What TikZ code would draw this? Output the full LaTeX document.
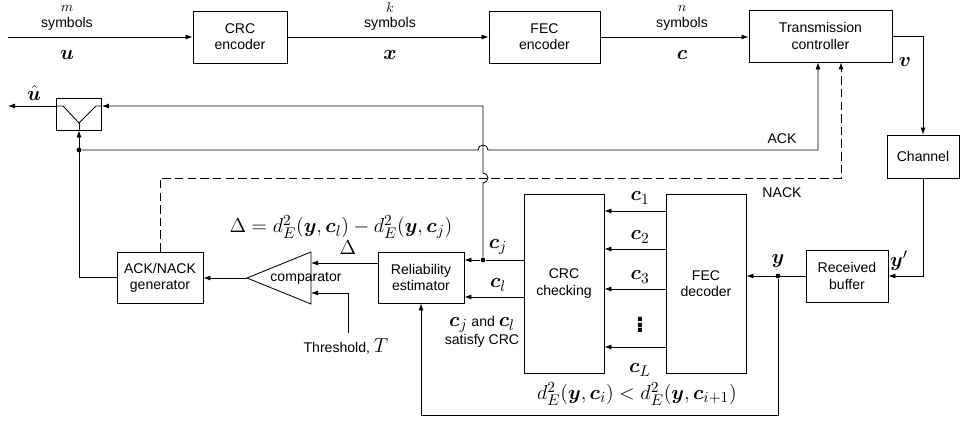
\documentclass[tikz,border=0pt]{standalone}
\usepackage{amsmath,bm}
\usepackage[no-math]{fontspec}
\setmainfont{Liberation Sans}
\usetikzlibrary{arrows.meta,calc}

\begin{document}
\begin{tikzpicture}[x=0.025cm, y=-0.025cm, line width=0.6pt,
  font=\fontsize{10}{11.5}\selectfont,
  block/.style={draw, align=center, inner sep=0pt},
  arr/.style={-{Latex[length=5pt,width=3.6pt]}},
  dot/.style={circle, fill, inner sep=0pt, minimum size=3.4pt},
  lbl/.style={font=\fontsize{15.5}{18}\selectfont, inner sep=1pt},
  tiny lbl/.style={font=\fontsize{10}{11}\selectfont, inner sep=1pt}]
  \useasboundingbox (0,0) rectangle (960,422);

  % -- Transmitter chain --
  \node[block, minimum width=2.35cm, minimum height=1.3cm] (crcenc) at (240,37) {CRC\\encoder};
  \node[block, minimum width=2.775cm, minimum height=1.3cm] (fecenc) at (544.5,37) {FEC\\encoder};
  \node[block, minimum width=3.575cm, minimum height=1.3cm] (txc) at (820.5,36) {Transmission\\controller};
  \node[block, minimum width=1.8cm, minimum height=1.075cm] (chan) at (923,156.5) {Channel};

  \coordinate (src) at (8,37);
  \draw[arr] (src) -- (crcenc.west);
  \draw[arr] (crcenc.east) -- (fecenc.west);
  \draw[arr] (fecenc.east) -- (fecenc.east -| txc.west);
  \draw[arr] (txc.east) -| (chan.north);

  \node[tiny lbl] (mlab) at (67,8) {$m$};
  \node (msym) at (67,24) {symbols};
  \node[lbl] (ulab) at (67,55) {$\bm{u}$};
  \node[tiny lbl] (klab) at (390,8) {$k$};
  \node (ksym) at (390,24) {symbols};
  \node[lbl] (xlab) at (390,55) {$\bm{x}$};
  \node[tiny lbl] (nlab) at (682,8) {$n$};
  \node (nsym) at (682,24) {symbols};
  \node[lbl] (clab) at (682,55) {$\bm{c}$};
  \node[lbl] (vlab) at (905,62) {$\bm{v}$};

  % -- Receiver chain --
  \node[block, minimum width=2.05cm, minimum height=1.3cm] (rbuf) at (847,276) {Received\\buffer};
  \node[block, minimum width=2cm, minimum height=4.475cm] (fecdec) at (706,283.5) {FEC\\decoder};
  \node[block, minimum width=2cm, minimum height=4.475cm] (crcchk) at (564,283.5) {CRC\\checking};
  \node[block, minimum width=2.15cm, minimum height=1.275cm] (relest) at (421,277.5) {Reliability\\estimator};
  \node[block, minimum width=2.15cm, minimum height=1.275cm] (ackgen) at (160,277.5) {ACK/NACK\\generator};

  \draw[arr] (chan.south) |- (rbuf.east);
  \node[lbl] (yplab) at (899,261) {$\bm{y}'$};
  \node[dot] (ydot) at (778,276) {};
  \node[lbl] (ylab) at (778,261) {$\bm{y}$};
  \draw[arr] (rbuf.west) -- (rbuf.west -| fecdec.east);
  \coordinate (ybot) at (778,415);
  \draw[arr] (ydot) -- (ybot) -| (relest.south);

  % candidate codewords
  \foreach \yy in {211, 249, 289, 347}
    \draw[arr] (fecdec.west |- 0,\yy) -- (crcchk.east |- 0,\yy);
  \node[lbl] (c1lab) at (640,198) {$\bm{c}_1$};
  \node[lbl] (c2lab) at (640,237) {$\bm{c}_2$};
  \node[lbl] (c3lab) at (640,277) {$\bm{c}_3$};
  \node[inner sep=0pt] (vdlab) at (640,321) {\fontsize{20}{20}\selectfont$\bm{\vdots}$};
  \node[lbl] (cLlab) at (640,370) {$\bm{c}_L$};
  \node[lbl] (order) at (637,394) {$d_E^2(\bm{y},\bm{c}_i) < d_E^2(\bm{y},\bm{c}_{i+1})$};

  % CRC-passing codewords
  \node[dot] (cjdot) at (483,260) {};
  \draw (crcchk.west |- cjdot) -- (cjdot);
  \draw[arr] (cjdot) -- (relest.east |- cjdot);
  \draw[arr] (crcchk.west |- 0,297) -- (relest.east |- 0,297);
  \node[lbl] (cjlab) at (498,247) {$\bm{c}_j$};
  \node[lbl] (cllab) at (498,285) {$\bm{c}_l$};
  \node[align=center, inner sep=1pt] (satlab) at (482,332) {{\fontsize{15.5}{15}\selectfont$\bm{c}_j$} and {\fontsize{15.5}{15}\selectfont$\bm{c}_l$}\\satisfy CRC};

  % comparator
  \coordinate (cmptip) at (247,278);
  \coordinate (cmpin1) at (311,263);
  \coordinate (cmpin2) at (311,293);
  \draw (311,252) -- (311,304) -- (cmptip) -- cycle;
  \node (cmp) at (306,278) {comparator};
  \draw[arr] (relest.west |- cmpin1) -- (cmpin1);
  \node[lbl] (dlab) at (348,248) {$\Delta$};
  \node[lbl] (dexpr) at (341,227) {$\Delta = d_E^2(\bm{y},\bm{c}_l) - d_E^2(\bm{y},\bm{c}_j)$};
  \node (thr) at (346,346) {Threshold, {\fontsize{15.5}{15}\selectfont$T$}};
  \draw[arr] (thr.north -| 348,0) |- (cmpin2);
  \draw[arr] (cmptip) -- (cmptip -| ackgen.east);

  % selector
  \node[block, minimum width=1.125cm, minimum height=0.8cm] (sel) at (79,114) {};
  \coordinate (vtx) at (79,123);
  \draw (sel.west |- 0,106) -- (63,106) -- (vtx) -- (96,106) -- (sel.east |- 0,106);
  \draw (vtx) -- (sel.south);
  \coordinate (uout) at (8,106);
  \draw[arr] (sel.west |- uout) -- (uout);
  \node[lbl] (uhat) at (34,93) {$\hat{\bm{u}}$};
  \draw[arr] (cjdot) -- (483,183) arc (90:-90:5) -- (483,106) -- (sel.east |- 0,106);

  % ACK / NACK feedback
  \node[dot] (ackdot) at (79,150) {};
  \draw[arr] (ackgen.west) -| (sel.south);
  \coordinate (ackup) at (818,150);
  \draw[arr] (ackdot) -- (478,150) arc (180:360:5) -- (ackup) -- (ackup |- txc.south);
  \node (acklab) at (782,139) {ACK};
  \coordinate (nackup) at (841,178);
  \draw[arr, dash pattern=on 6pt off 3pt] (ackgen.north) |- (nackup) -- (nackup |- txc.south);
  \node (nacklab) at (782,193) {NACK};
\end{tikzpicture}
\end{document}
